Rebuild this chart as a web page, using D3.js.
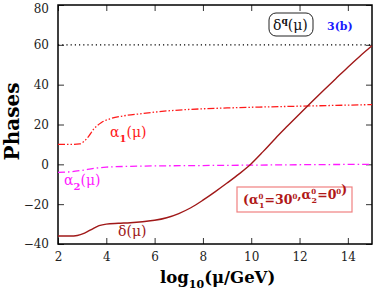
<!DOCTYPE html>
<html lang="en">
<head>
<meta charset="UTF-8">
<title>Phases vs log10(mu/GeV)</title>
<style>
  body { margin: 0; background: #fff; }
  svg { font-family: "DejaVu Serif", serif; }
  .axis-line { stroke: #000; stroke-width: 1.5; fill: none; }
  .tick-label { font-size: 12px; fill: #222; }
</style>
</head>
<body>
<svg id="chart" width="374" height="291"></svg>
<script src="https://d3js.org/d3.v7.min.js"></script>
<script>
// data
const xTicks = [2, 4, 6, 8, 10, 12, 14];
const yTicks = [-40, -20, 0, 20, 40, 60, 80];

const alpha1X = [2, 2.5, 2.9, 3.2, 3.5, 3.8, 4.2, 4.7, 5.5, 6.5, 7.5, 9, 10.5, 12, 13.5, 15];
const alpha1Y = [10, 10, 10.3, 13, 18, 21, 23, 24.3, 25.5, 26.8, 27.6, 28.3, 28.8, 29.2, 29.6, 30];

const alpha2X = [2, 2.5, 3, 3.5, 4, 5, 6, 8, 10, 12, 15];
const alpha2Y = [-4, -3.8, -3, -2, -1.4, -1, -0.8, -0.6, -0.4, -0.2, 0];

const deltaX = [2, 2.5, 2.8, 3.1, 3.4, 3.7, 4, 4.5, 5, 5.5, 6, 6.5, 7, 7.5, 8, 8.5, 9, 9.5, 10, 10.5, 11, 11.5, 12, 12.5, 13, 13.5, 14, 14.5, 15];
const deltaY = [-36, -36, -35.7, -34.5, -32.6, -30.8, -30, -29.6, -29.3, -28.8, -28.1, -26.8, -24.7, -21.8, -18, -13.8, -9.4, -4.8, 0.3, 6.5, 13, 19.2, 25.3, 31.3, 37.2, 43, 48.8, 54.3, 59.5];

const refLine = 60;

const width = 374, height = 291;
const margin = { top: 5, right: 2, bottom: 47, left: 58 };

const svg = d3.select("#chart");
const x = d3.scaleLinear().domain([2, 15]).range([margin.left, width - margin.right]);
const y = d3.scaleLinear().domain([-40, 80]).range([height - margin.bottom, margin.top]);

const tickLen = 6;

// axes, ticks pointing inward on all four sides
const axBottom = svg.append("g")
  .attr("transform", `translate(0,${y(-40)})`)
  .call(d3.axisBottom(x).tickValues(xTicks).tickSize(-tickLen).tickPadding(8));
const axTop = svg.append("g")
  .attr("transform", `translate(0,${y(80)})`)
  .call(d3.axisTop(x).tickValues(xTicks).tickSize(-tickLen).tickFormat(""));
const axLeft = svg.append("g")
  .attr("transform", `translate(${x(2)},0)`)
  .call(d3.axisLeft(y).tickValues(yTicks).tickSize(-tickLen).tickPadding(9)
    .tickFormat(d => d < 0 ? "\u2212" + Math.abs(d) : d));
const axRight = svg.append("g")
  .attr("transform", `translate(${x(15)},0)`)
  .call(d3.axisRight(y).tickValues(yTicks).tickSize(-tickLen).tickFormat(""));

[axBottom, axTop, axLeft, axRight].forEach(g => {
  g.select(".domain").remove();
  g.selectAll(".tick line").attr("stroke", "#333").attr("stroke-width", 1);
  g.selectAll(".tick text").attr("class", "tick-label")
    .style("font-family", "DejaVu Serif, serif").style("font-size", "12px").attr("fill", "#222");
});
// top label sits a little lower so it stays inside the page
axLeft.selectAll(".tick text").filter(d => d === 80).attr("dy", "0.62em");

svg.append("rect").attr("class", "axis-line")
  .attr("x", x(2)).attr("y", y(80))
  .attr("width", x(15) - x(2)).attr("height", y(-40) - y(80));

// dotted reference line
svg.append("line")
  .attr("x1", x(2)).attr("x2", x(15))
  .attr("y1", y(refLine)).attr("y2", y(refLine))
  .attr("stroke", "#000").attr("stroke-width", 1.2)
  .attr("stroke-dasharray", "1.2,3");

const line = d3.line().x(d => x(d[0])).y(d => y(d[1])).curve(d3.curveMonotoneX);

svg.append("path")
  .datum(d3.zip(alpha1X, alpha1Y))
  .attr("d", line).attr("fill", "none")
  .attr("stroke", "#ff1a1a").attr("stroke-width", 1.3)
  .attr("stroke-dasharray", "7,2,1.5,2,1.5,2");

svg.append("path")
  .datum(d3.zip(alpha2X, alpha2Y))
  .attr("d", line).attr("fill", "none")
  .attr("stroke", "#ff1aff").attr("stroke-width", 1.3)
  .attr("stroke-dasharray", "7,3,1.5,3");

svg.append("path")
  .datum(d3.zip(deltaX, deltaY))
  .attr("d", line).attr("fill", "none")
  .attr("stroke", "#a01818").attr("stroke-width", 1.4);

// curve labels
function curveLabel(px, py, sym, sub, color) {
  const t = svg.append("text").attr("x", px).attr("y", py)
    .attr("fill", color).style("font-size", "14px");
  t.append("tspan").text(sym);
  if (sub) {
    t.append("tspan").attr("dy", 5).style("font-size", "10px").style("font-weight", "bold").text(sub);
    t.append("tspan").attr("dy", -5).text("(\u03bc)");
  } else {
    t.append("tspan").text("(\u03bc)");
  }
}
curveLabel(110, 137, "\u03b1", "1", "#ff1a1a");
curveLabel(64, 185, "\u03b1", "2", "#ff1aff");
curveLabel(118, 236, "\u03b4", null, "#a01818");

// delta^q box
svg.append("rect")
  .attr("x", 269).attr("y", 13).attr("width", 44).attr("height", 23)
  .attr("rx", 7).attr("fill", "#fff").attr("stroke", "#222").attr("stroke-width", 1);
const dq = svg.append("text").attr("x", 273).attr("y", 30).style("font-size", "14px").attr("fill", "#111");
dq.append("tspan").text("\u03b4");
dq.append("tspan").attr("dy", -6).style("font-size", "9px").style("font-weight", "bold").text("q");
dq.append("tspan").attr("dy", 6).text("(\u03bc)");

svg.append("text").attr("x", 327).attr("y", 30)
  .attr("fill", "#1a1aff").style("font-size", "11px").style("font-weight", "bold")
  .text("3(b)");

// parameter box
svg.append("rect")
  .attr("x", 237).attr("y", 187).attr("width", 115).attr("height", 25)
  .attr("fill", "#fff").attr("stroke", "#f08080").attr("stroke-width", 1.2);
const pb = svg.append("text").attr("x", 243).attr("y", 204)
  .attr("fill", "#b01818").style("font-size", "12.5px").style("font-weight", "bold");
function alphaPart(idx, val, first) {
  pb.append("tspan").text((first ? "(" : ",") + "\u03b1");
  pb.append("tspan").attr("dy", -5).style("font-size", "7px").text("0");
  pb.append("tspan").attr("dx", -4.5).attr("dy", 9).style("font-size", "8px").text(idx);
  pb.append("tspan").attr("dy", -4).text("=" + val);
  pb.append("tspan").attr("dy", -5).style("font-size", "7px").text("0");
  pb.append("tspan").attr("dy", 5).text("");
}
alphaPart("1", "30", true);
alphaPart("2", "0", false);
pb.append("tspan").text(")");

// axis titles
svg.append("text")
  .attr("transform", `translate(19,${(y(80) + y(-40)) / 2 - 3}) rotate(-90)`)
  .attr("text-anchor", "middle").style("font-size", "20px").style("font-weight", "bold")
  .text("Phases");

const xl = svg.append("text").attr("x", 160).attr("y", 283)
  .style("font-size", "16.5px").style("font-weight", "bold");
xl.append("tspan").text("log");
xl.append("tspan").attr("dy", 5).style("font-size", "11px").text("10");
xl.append("tspan").attr("dy", -5).text("(\u03bc/GeV)");
</script>
</body>
</html>
